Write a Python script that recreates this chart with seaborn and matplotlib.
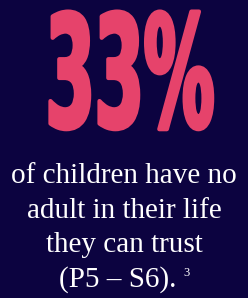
import matplotlib
matplotlib.use("Agg")
import matplotlib.pyplot as plt
import seaborn as sns
from matplotlib.patheffects import AbstractPathEffect
from matplotlib.transforms import Affine2D

# headline figure and caption lines
stat_value = 33
stat_suffix = "%"
caption_lines = ["of children have no", "adult in their life", "they can trust", "(P5 – S6)."]
footnote = "3"

bg_color = "#0c0340"
stat_color = "#e6436b"


# squeeze glyphs horizontally around a centre x (in pixels), optionally fattened by a stroke
class Squeeze(AbstractPathEffect):
    def __init__(self, sx, cx, stroke=0.0):
        super().__init__()
        self.sx = sx
        self.cx = cx
        self.stroke = stroke

    def draw_path(self, renderer, gc, tpath, affine, rgbFace=None):
        a = affine + Affine2D().translate(-self.cx, 0).scale(self.sx, 1).translate(self.cx, 0)
        if self.stroke > 0:
            gc0 = renderer.new_gc()
            gc0.copy_properties(gc)
            gc0.set_linewidth(self.stroke)
            gc0.set_foreground(rgbFace)
            renderer.draw_path(gc0, tpath, a, rgbFace)
            gc0.restore()
        else:
            renderer.draw_path(gc, tpath, a, rgbFace)


sns.set_theme(style="white", rc={"figure.facecolor": bg_color, "axes.facecolor": bg_color})

fig = plt.figure(figsize=(2.48, 2.98), dpi=100)
ax = fig.add_axes([0, 0, 1, 1])
ax.set_axis_off()

ax.text(130 / 248, 1 - 127 / 298, f"{stat_value}{stat_suffix}", transform=ax.transAxes,
        ha="center", va="baseline", fontsize=112, fontweight="bold",
        family=["Liberation Sans Narrow", "DejaVu Sans"], color=stat_color,
        path_effects=[Squeeze(0.453, 130, stroke=3)])

baselines = [183, 218, 252, 287]
for line, b in zip(caption_lines, baselines):
    x = 124 if line != caption_lines[-1] else 118
    ax.text(x / 248, 1 - b / 298, line, transform=ax.transAxes, ha="center", va="baseline",
            fontsize=21, family=["Liberation Serif"], color="white")

ax.text(186 / 248, 1 - 276 / 298, footnote, transform=ax.transAxes, ha="center", va="baseline",
        fontsize=9, family=["Liberation Serif"], color="white")

fig.savefig("out.png", dpi=100, facecolor=bg_color)
